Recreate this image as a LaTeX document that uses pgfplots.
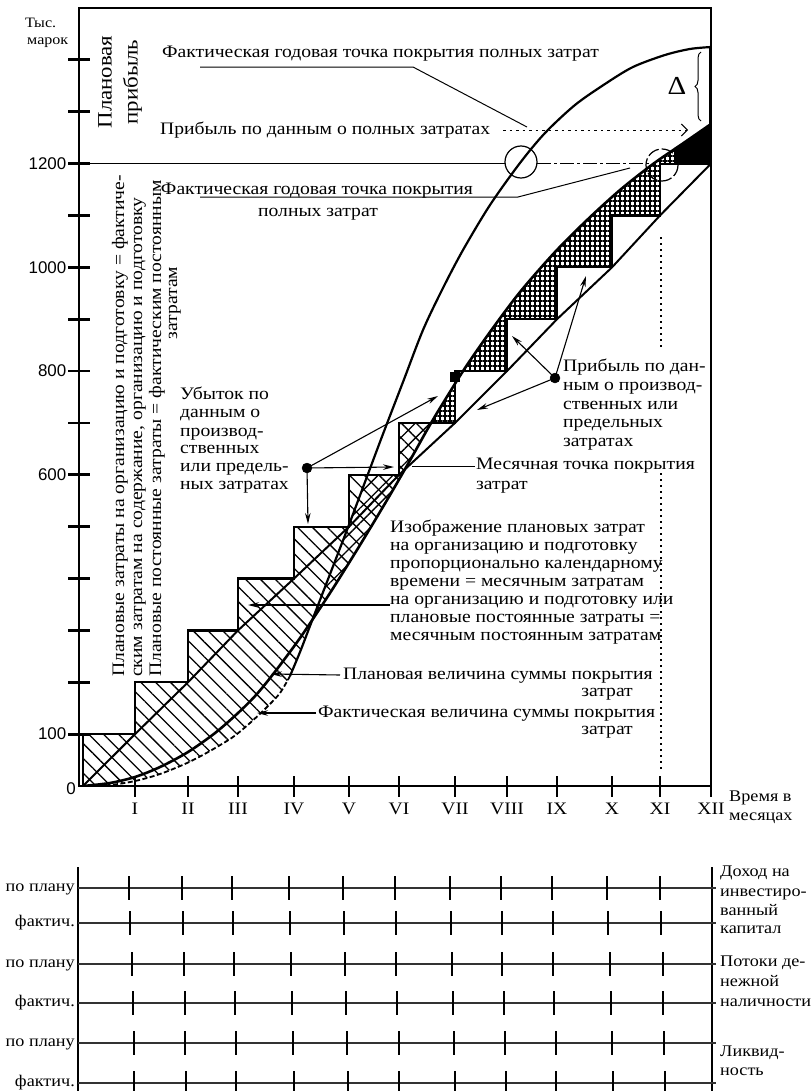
\documentclass[border=0pt]{standalone}
\usepackage{fontspec}
\setmainfont{Liberation Serif}[FakeStretch=1.12]
\setsansfont{Liberation Sans}
\usepackage{pgfplots}
\pgfplotsset{compat=1.18}
\usetikzlibrary{patterns.meta,arrows.meta,decorations.pathreplacing}
\newcommand\fs[1]{\fontsize{#1}{#1}\selectfont}
\begin{document}
\begin{tikzpicture}
\useasboundingbox (0,0) rectangle (811bp,-1091bp);
\clip (0,0) rectangle (811bp,-1091bp);
% ---------------- main chart ----------------
\begin{axis}[
  at={(79bp,-786bp)}, anchor=south west,
  scale only axis, width=632bp, height=778bp,
  xmin=0, xmax=632, ymin=0, ymax=1500,
  axis line style={line width=1.2bp},
  tick pos=left, tick align=center, major tick length=21bp,
  tick style={line width=2.8bp, black},
  xtick={56,109,159,215,270,320,376,428,478,533,581,632},
  xticklabels={I,II,III,IV,V,VI,VII,VIII,IX,X,XI,XII},
  ytick={100,200,...,1400},
  yticklabels={100,{},{},{},{},600,{},800,{},1000,{},1200,{},{}},
  xticklabel style={font=\fs{17.6}, inner sep=0pt, anchor=north, yshift=-6bp},
  yticklabel style={font=\sffamily\fs{17}, inner sep=0pt, anchor=east, xshift=-2bp},
]
% loss area (planned fixed costs above coverage)
\addplot[draw=none, pattern={Lines[angle=-45,distance=10.5bp,line width=1.3bp]}] coordinates {(4,0)(4,100)(56,100)(56,200)(109,200)(109,300)(159,300)(159,400)(215,400)(215,500)(270,500)(270,600)(320,600)(320,700)(352,700)(348,686.3)(334,638.1)(311,561.0)(281,464.6)(251,372.1)(233,320)(231,308.5)(221,258.3)(211,212.1)(201,179.3)(188,152.3)(171,121.5)(154,94.5)(131,67.5)(108,44.3)(81,23.1)(56,9.6)(31,1.9)(4,0)} -- cycle;
\addplot[draw=none, pattern={Lines[angle=45,distance=10.5bp,line width=1.3bp]}] coordinates {(233,320)(241,358.6)(268,493.6)(269.3,500)(270,500)(270,503.9)(286,586.1)(288.8,600)(320,600)(320,700)(352,700)(348,686.3)(334,638.1)(311,561)(281,464.6)(251,372.1)(233,320)} -- cycle;
% profit area
\addplot[draw=none, pattern={Lines[angle=0,distance=5bp,line width=2.2bp]}] coordinates {(352,700)(361,728.7)(386,805.8)(411,875.3)(441,952.4)(476,1029.5)(508,1091.2)(541,1149.1)(574,1199.2)(606,1241.6)(632,1276.3)(632,1200)(581,1200)(581,1100)(533,1100)(533,1000)(478,1000)(478,900)(428,900)(428,800)(384.1,800)(376,775)(376,700)(352,700)} -- cycle;
\addplot[draw=none, pattern={Lines[angle=90,distance=5bp,line width=2.2bp]}] coordinates {(352,700)(361,728.7)(386,805.8)(411,875.3)(441,952.4)(476,1029.5)(508,1091.2)(541,1149.1)(574,1199.2)(606,1241.6)(632,1276.3)(632,1200)(581,1200)(581,1100)(533,1100)(533,1000)(478,1000)(478,900)(428,900)(428,800)(384.1,800)(376,775)(376,700)(352,700)} -- cycle;
\addplot[fill=black, draw=none] coordinates {(595,1200)(595,1227)(606,1241.6)(632,1276.3)(632,1200)} -- cycle;
% 1200 line
\addplot[line width=1.3bp] coordinates {(0,1200)(426,1200)};
\addplot[line width=1.3bp, dash pattern=on 14bp off 3bp on 3bp off 3bp] coordinates {(458,1200)(570,1200)};
% fixed costs proportional to calendar time
\addplot[line width=2bp] coordinates {(4,0)(56,100)(109,200)(159,300)(215,400)(270,500)(320,600)(376,700)(428,800)(478,900)(533,1000)(581,1100)(632,1200)};
% monthly fixed costs (staircase)
\addplot[line width=2.2bp] coordinates {(4,0)(4,100)(56,100)(56,200)(109,200)(109,300)(159,300)(159,400)(215,400)(215,500)(270,500)(270,600)(320,600)(320,700)(376,700)(376,800)(428,800)(428,900)(478,900)(478,1000)(533,1000)(533,1100)(581,1100)(581,1200)(632,1200)};
% planned coverage
\addplot[line width=2.6bp, smooth] coordinates {(4,0)(31,5.8)(56,17.4)(81,36.6)(109,65.5)(136,102.1)(159,140.7)(177,175.4)(195,217.9)(221,285.3)(251,372.1)(281,464.6)(311,561.0)(334,638.1)(348,686.3)(361,728.7)(386,805.8)(411,875.3)(441,952.4)(476,1029.5)(508,1091.2)(541,1149.1)(574,1199.2)(606,1241.6)(632,1276.3)};
% actual coverage
\addplot[line width=1.8bp, dash pattern=on 5bp off 2.5bp, smooth] coordinates {(4,0)(31,1.9)(56,9.6)(81,23.1)(108,44.3)(131,67.5)(154,94.5)(171,121.5)(188,152.3)(201,179.3)(211,212.1)};
\addplot[line width=2.2bp, smooth] coordinates {(211,212.1)(221,258.3)(231,308.5)(241,358.6)(268,493.6)(286,586.1)(304,678.7)(324,778.9)(344,879.2)(364,960.2)(384,1033.4)(411,1120.2)(441,1201.2)(466,1259.0)(496,1313.0)(526,1353.5)(554,1386.3)(586,1409.4)(611,1421.0)(632,1424.8)};
\addplot[line width=2.6bp] coordinates {(631,1200)(631,1425)};
% points
\addplot[only marks, black, mark=*, mark size=5bp, mark options={fill=black}] coordinates {(228,613.1)(476,786.6)};
\addplot[only marks, black, mark=square*, mark size=4.5bp, mark options={fill=black}] coordinates {(376,788.6)};
\end{axis}
% ---------------- bottom panel ----------------
\begin{axis}[
  at={(78bp,-1091bp)}, anchor=south west,
  scale only axis, width=634bp, height=224bp,
  xmin=0, xmax=634, ymin=0, ymax=224, hide axis, clip=false,
]
\addplot[line width=1.3bp] coordinates {(0,0)(0,224)};
\addplot[line width=1.3bp] coordinates {(634,0)(634,224)};
\addplot[black!80, line width=1.5bp] coordinates {(0,203)(638,203)};
\addplot[black!80, line width=1.5bp] coordinates {(0,168)(638,168)};
\addplot[black!80, line width=1.5bp] coordinates {(0,127)(638,127)};
\addplot[black!80, line width=1.5bp] coordinates {(0,88)(638,88)};
\addplot[black!80, line width=1.5bp] coordinates {(0,48)(638,48)};
\addplot[black!80, line width=1.5bp] coordinates {(0,8)(638,8)};
\addplot[only marks, black, mark=|, mark size=12bp, mark options={line width=2.8bp}] coordinates {(51,203)(104,203)(154,203)(211,203)(265,203)(317,203)(372,203)(423,203)(474,203)(529,203)(582,203)};
\addplot[only marks, black, mark=|, mark size=12bp, mark options={line width=2.8bp}] coordinates {(52,168)(105,168)(155,168)(212,168)(266,168)(318,168)(373,168)(424,168)(475,168)(530,168)(583,168)};
\addplot[only marks, black, mark=|, mark size=12bp, mark options={line width=2.8bp}] coordinates {(54,127)(106,127)(156,127)(213,127)(267,127)(318,127)(374,127)(424,127)(475,127)(532,127)(585,127)};
\addplot[only marks, black, mark=|, mark size=12bp, mark options={line width=2.8bp}] coordinates {(55,88)(107,88)(157,88)(214,88)(268,88)(319,88)(375,88)(426,88)(476,88)(533,88)(585,88)};
\addplot[only marks, black, mark=|, mark size=12bp, mark options={line width=2.8bp}] coordinates {(56,48)(107,48)(158,48)(215,48)(269,48)(321,48)(376,48)(427,48)(478,48)(534,48)(586,48)};
\addplot[only marks, black, mark=|, mark size=12bp, mark options={line width=2.8bp}] coordinates {(56,8)(108,8)(158,8)(216,8)(270,8)(321,8)(377,8)(428,8)(478,8)(535,8)(587,8)};
\end{axis}
% ---------------- annotations ----------------
\begin{scope}[x=1bp,y=-1bp,
  lab/.style={font=\fs{17.6}, inner sep=0pt, text height=12bp, text depth=4bp},
  blab/.style={font=\fs{16.3}, inner sep=0pt, text height=11bp, text depth=4bp},
  arr/.style={line width=1.1bp, -{Stealth[length=11bp,width=5.5bp]}},
  thin/.style={line width=1bp}]
\node[lab, font=\fs{14.4}, anchor=west] at (25,23) {Тыс.};
\node[lab, font=\fs{14.4}, anchor=west] at (27,40) {марок};
\node[font=\sffamily\fs{17}, anchor=east, inner sep=0pt] at (76,789) {0};
\node[lab, font=\fs{20.5}, text height=14bp, text depth=5bp, rotate=90] at (107,82) {Плановая};
\node[lab, font=\fs{20.5}, text height=14bp, text depth=5bp, rotate=90] at (133,82) {прибыль};
\node[lab, rotate=90, anchor=west] at (120,677) {Плановые затраты на организацию и подготовку = фактиче-};
\node[lab, rotate=90, anchor=west] at (138,677) {ским затратам на содержание, организацию и подготовку};
\node[lab, rotate=90, anchor=west] at (157,677) {Плановые постоянные затраты = фактическим постоянным};
\node[lab, rotate=90] at (173,303) {затратам};
% top labels
\node[lab, anchor=west] at (162,53) {Фактическая годовая точка покрытия полных затрат};
\draw[thin] (200,67) -- (413,67) -- (527,127);
\node[lab, anchor=west] at (160,130) {Прибыль по данным о полных затратах};
\draw[thin, dash pattern=on 2.5bp off 4bp, -{Straight Barb[length=6bp,width=12bp]}] (503,130) -- (688,130);
\node[lab] at (317,190) {Фактическая годовая точка покрытия};
\node[lab] at (318,212) {полных затрат};
\draw[thin] (200,197) -- (518,197) -- (630,168);
% circles
\draw[line width=1.2bp] (521,162) circle (16);
\draw[line width=1.2bp, dash pattern=on 12bp off 3bp] (662,165) circle (16);
% delta and brace
\node[font=\fs{26}, inner sep=0pt] at (677,86) {Δ};
\draw[line width=1bp, decorate, decoration={brace, amplitude=6bp}] (701,121) -- (701,52);
% dotted verticals
\draw[line width=1.4bp, dash pattern=on 1.6bp off 4.4bp] (661,237) -- (661,347);
\draw[line width=1.4bp, dash pattern=on 1.6bp off 4.4bp] (661,473) -- (661,772);
% loss label
\node[lab, anchor=west] at (180,395) {Убыток по};
\node[lab, anchor=west] at (180,413) {данным о};
\node[lab, anchor=west] at (180,432) {производ-};
\node[lab, anchor=west] at (180,449) {ственных};
\node[lab, anchor=west] at (180,467) {или предель-};
\node[lab, anchor=west] at (180,485) {ных затратах};
\draw[arr] (307,468) -- (308,524);
\draw[arr] (307,468) -- (394,467);
\draw[arr] (307,468) -- (438,396);
% profit label
\node[lab, anchor=west] at (563,367) {Прибыль по дан-};
\node[lab, anchor=west] at (563,386) {ным о производ-};
\node[lab, anchor=west] at (563,405) {ственных или};
\node[lab, anchor=west] at (563,423) {предельных};
\node[lab, anchor=west] at (563,442) {затратах};
\draw[arr] (555,378) -- (512,336);
\draw[arr] (555,378) -- (586,276);
\draw[arr] (555,378) -- (477,410);
% monthly break-even
\node[lab, anchor=west] at (476,465) {Месячная точка покрытия};
\node[lab, anchor=west] at (476,485) {затрат};
\draw[thin] (475,466) -- (412,466);
% planned costs label
\node[lab, anchor=west] at (390,528) {Изображение плановых затрат};
\node[lab, anchor=west] at (390,546) {на организацию и подготовку};
\node[lab, anchor=west] at (390,564) {пропорционально календарному};
\node[lab, anchor=west] at (390,582) {времени = месячным затратам};
\node[lab, anchor=west] at (390,600) {на организацию и подготовку или};
\node[lab, anchor=west] at (390,618) {плановые постоянные затраты =};
\node[lab, anchor=west] at (390,636) {месячным постоянным затратам};
\draw[arr] (390,605) -- (248,605);
% coverage labels
\node[lab, anchor=west] at (343,675) {Плановая величина суммы покрытия};
\node[lab, anchor=east] at (633,692) {затрат};
\draw[arr] (340,675) -- (271,674);
\node[lab, anchor=west] at (318,713) {Фактическая величина суммы покрытия};
\node[lab, anchor=east] at (633,730) {затрат};
\draw[arr] (316,713) -- (257,713);
% x axis title
\node[blab, anchor=west] at (729,798) {Время в};
\node[blab, anchor=west] at (729,817) {месяцах};
% bottom panel labels
\node[blab, anchor=east] at (75,888) {по плану};
\node[blab, anchor=east] at (75,923) {фактич.};
\node[blab, anchor=east] at (75,964) {по плану};
\node[blab, anchor=east] at (75,1003) {фактич.};
\node[blab, anchor=east] at (75,1043) {по плану};
\node[blab, anchor=east] at (75,1083) {фактич.};
\node[blab, anchor=west] at (720,873) {Доход на};
\node[blab, anchor=west] at (720,893) {инвестиро-};
\node[blab, anchor=west] at (720,912) {ванный};
\node[blab, anchor=west] at (720,930) {капитал};
\node[blab, anchor=west] at (720,963) {Потоки де-};
\node[blab, anchor=west] at (720,983) {нежной};
\node[blab, anchor=west] at (720,1003) {наличности};
\node[blab, anchor=west] at (720,1053) {Ликвид-};
\node[blab, anchor=west] at (720,1072) {ность};
\end{scope}
\end{tikzpicture}
\end{document}
